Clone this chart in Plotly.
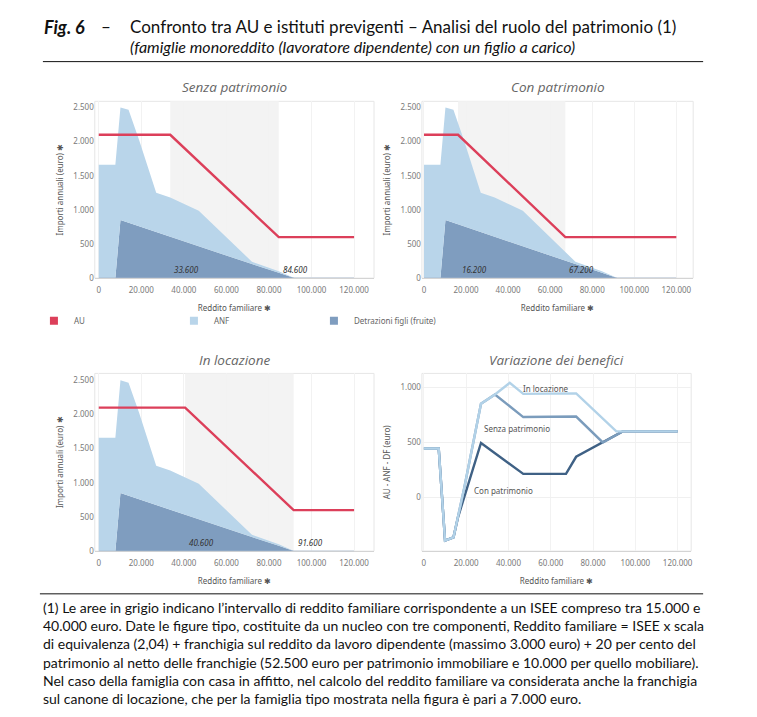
import plotly.graph_objects as go

W, H = 757, 717
OFF = 8                      # default page body margin
FW, FH = W - OFF, H - OFF

# ---------------- data ----------------
# Reddito familiare grid shared by ANF and DF (stacked areas)
x_inc = [0, 7800, 10200, 14000, 19000, 27000, 33600, 47000, 72000, 84600, 92000, 120000]
df_vals = [0, 0, 850, 810, 760, 675, 605, 465, 205, 80, 0, 0]          # Detrazioni figli (fruite)
anf_vals = [1660, 1660, 1650, 1655, 1260, 575, 575, 520, 35, 20, 0, 0]  # ANF

# AU per scenario
au_x_senza = [0, 33600, 84600, 120000]
au_x_con = [0, 16200, 67200, 120000]
au_x_loc = [0, 40600, 91600, 120000]
au_vals = [2100, 2100, 600, 600]

# grey ISEE bands (reddito familiare for ISEE 15.000 - 40.000)
band_senza = [33600, 84600]
band_con = [16200, 67200]
band_loc = [40600, 91600]

# Variazione dei benefici (AU - ANF - DF)
var_x_senza = [0, 7000, 10000, 14000, 19000, 27000, 33600, 47000, 72000, 84600, 94000, 120000]
var_senza = [445, 445, -390, -360, 80, 850, 935, 730, 735, 500, 600, 600]
var_x_con = [0, 7000, 10000, 14000, 16200, 27000, 47000, 67200, 72000, 84600, 94000, 120000]
var_con = [445, 445, -390, -360, -175, 495, 215, 215, 370, 500, 600, 600]
var_x_loc = [0, 7000, 10000, 14000, 19000, 27000, 33600, 40600, 47000, 72000, 91000, 120000]
var_loc = [445, 445, -390, -360, 80, 850, 935, 1040, 940, 945, 600, 600]

x_ticks = [0, 20000, 40000, 60000, 80000, 100000, 120000]
y_ticks_imp = [0, 500, 1000, 1500, 2000, 2500]
y_ticks_var = [0, 500, 1000]

panel_titles = ["Senza patrimonio", "Con patrimonio", "In locazione", "Variazione dei benefici"]

# ---------------- style ----------------
C_AU = "#dc3f5a"
C_ANF = "#b9d5ea"
C_DF = "#7f9dbf"
C_LOC = "#b2d2e8"
C_SENZA = "#7b9cbc"
C_CON = "#3f6185"
BAND = "#f3f3f3"
TICKF = dict(family="Noto Sans", size=8, color="#7a7a7a")
FONT = "Noto Sans"


def px_x(p):
    return (p - OFF) / FW


def px_y(p):
    return 1 - (p - OFF) / FH


fig = go.Figure()

panels = [
    ("", (95, 375), (102, 280), [-1875, 129375], [0, 2590]),
    ("2", (423, 695), (102, 280), [-1000, 128000], [0, 2590]),
    ("3", (95, 375), (376, 555), [-1875, 129375], [0, 2600]),
    ("4", (423, 693), (376, 555), [-950, 126400], [-486, 1126]),
]

au_sets = [au_x_senza, au_x_con, au_x_loc]
bands = [band_senza, band_con, band_loc]

shapes = []
annotations = []

for i, (suf, xd, yd, xr, yr) in enumerate(panels):
    xa = "xaxis" + suf
    ya = "yaxis" + suf
    xref = "x" + suf
    yref = "y" + suf
    is_var = i == 3
    fig.update_layout({
        xa: dict(domain=[px_x(xd[0]), px_x(xd[1])], range=xr, anchor=yref,
                 tickvals=x_ticks, tickformat=",d", ticks="", tickfont=TICKF, ticklabelstandoff=4,
                 showgrid=True, gridcolor="#f2f2f2", zeroline=False,
                 showline=True, linecolor="#d4d4d4", mirror=False,
                 title=dict(text="Reddito familiare ✱", font=dict(family=FONT, size=8, color="#555"),
                            standoff=11),
                 fixedrange=True),
        ya: dict(domain=[px_y(yd[1]), px_y(yd[0])], range=yr, anchor=xref,
                 tickvals=y_ticks_var if is_var else y_ticks_imp, tickformat=",d", ticks="",
                 tickfont=TICKF, showgrid=is_var, gridcolor="#f0f0f0", zeroline=False,
                 showline=False,
                 title=dict(text=("AU - ANF - DF (euro)" if is_var else "Importi annuali (euro) ✱"),
                            font=dict(family=FONT, size=8, color="#555"), standoff=8),
                 fixedrange=True),
    })
    shapes.append(dict(type="rect", xref="paper", yref="paper",
                       x0=px_x(xd[0]), x1=px_x(xd[1]), y0=px_y(yd[1]), y1=px_y(yd[0]),
                       line=dict(color="#e6e6e6", width=1), layer="below"))
    annotations.append(dict(text="<i>%s</i>" % panel_titles[i], xref="paper", yref="paper",
                            x=px_x((xd[0] + xd[1]) / 2), y=px_y(yd[0] - 14), xanchor="center",
                            yanchor="middle", showarrow=False,
                            font=dict(family="Open Sans", size=13.5, color="#666")))

    if not is_var:
        b0, b1 = bands[i]
        shapes.append(dict(type="rect", xref=xref, yref=yref + " domain", x0=b0, x1=b1, y0=0, y1=1,
                           fillcolor=BAND, line=dict(width=0), layer="below"))
        sg = "s%d" % i
        fig.add_trace(go.Scatter(x=x_inc, y=df_vals, xaxis=xref, yaxis=yref, stackgroup=sg,
                                 mode="lines", line=dict(width=0, color=C_DF), fillcolor=C_DF,
                                 name="Detrazioni figli (fruite)", showlegend=False, hoverinfo="skip"))
        fig.add_trace(go.Scatter(x=x_inc, y=anf_vals, xaxis=xref, yaxis=yref, stackgroup=sg,
                                 mode="lines", line=dict(width=0, color=C_ANF), fillcolor=C_ANF,
                                 name="ANF", showlegend=False, hoverinfo="skip"))
        fig.add_trace(go.Scatter(x=au_sets[i], y=au_vals, xaxis=xref, yaxis=yref, mode="lines",
                                 line=dict(color=C_AU, width=2.4), name="AU", showlegend=False))
        shapes.append(dict(type="line", xref=xref, yref=yref, x0=0, x1=120000, y0=0, y1=0,
                           line=dict(color="#a9b9cc", width=1)))
        for v in (b0, b1):
            annotations.append(dict(text="<i>%s</i>" % f"{v:,}".replace(",", "."), xref=xref, yref=yref,
                                    x=v, y=0, xanchor="left", yanchor="bottom", xshift=2, yshift=1,
                                    showarrow=False,
                                    font=dict(family=FONT, size=8, color="#333")))
    else:
        for xs, ys, col, nm in ((var_x_con, var_con, C_CON, "Con patrimonio"),
                                (var_x_senza, var_senza, C_SENZA, "Senza patrimonio"),
                                (var_x_loc, var_loc, C_LOC, "In locazione")):
            fig.add_trace(go.Scatter(x=xs, y=ys, xaxis=xref, yaxis=yref, mode="lines",
                                     line=dict(color=col, width=2.4), name=nm, showlegend=False))
        for nm, xx, yy in (("In locazione", 522, 391), ("Senza patrimonio", 483, 431),
                           ("Con patrimonio", 473, 494)):
            annotations.append(dict(text=nm, xref="paper", yref="paper", x=px_x(xx), y=px_y(yy),
                                    xanchor="left", yanchor="middle", showarrow=False,
                                    font=dict(family=FONT, size=8, color="#555")))

# legend entries
for nm, col in (("AU", C_AU), ("ANF", C_ANF), ("Detrazioni figli (fruite)", C_DF)):
    fig.add_trace(go.Scatter(x=[None], y=[None], mode="markers", name=nm,
                             marker=dict(symbol="square", size=8, color=col), showlegend=True))

# header
HF = "Lato"
annotations.append(dict(text="<b><i>Fig. 6</i></b>", xref="paper", yref="paper", x=px_x(42), y=px_y(27),
                        xanchor="left", yanchor="middle", showarrow=False,
                        font=dict(family=HF, size=18, color="#111")))
annotations.append(dict(text="–", xref="paper", yref="paper", x=px_x(99), y=px_y(27),
                        xanchor="left", yanchor="middle", showarrow=False,
                        font=dict(family=HF, size=17, color="#111")))
annotations.append(dict(text="Confronto tra AU e istituti previgenti – Analisi del ruolo del patrimonio (1)",
                        xref="paper", yref="paper", x=px_x(128), y=px_y(27), xanchor="left",
                        yanchor="middle", showarrow=False, font=dict(family=HF, size=17, color="#111")))
annotations.append(dict(text="<i>(famiglie monoreddito (lavoratore dipendente) con un figlio a carico)</i>",
                        xref="paper", yref="paper", x=px_x(128), y=px_y(47), xanchor="left",
                        yanchor="middle", showarrow=False, font=dict(family=HF, size=16, color="#111")))
shapes.append(dict(type="line", xref="paper", yref="paper", x0=px_x(43), x1=px_x(705),
                   y0=px_y(62), y1=px_y(62), line=dict(color="#111", width=1)))

# footnote
foot = ("(1) Le aree in grigio indicano l’intervallo di reddito familiare corrispondente a un ISEE compreso tra 15.000 e<br>"
        "40.000 euro. Date le figure tipo, costituite da un nucleo con tre componenti, Reddito familiare = ISEE x scala<br>"
        "di equivalenza (2,04) + franchigia sul reddito da lavoro dipendente (massimo 3.000 euro) + 20 per cento del<br>"
        "patrimonio al netto delle franchigie (52.500 euro per patrimonio immobiliare e 10.000 per quello mobiliare).<br>"
        "Nel caso della famiglia con casa in affitto, nel calcolo del reddito familiare va considerata anche la franchigia<br>"
        "sul canone di locazione, che per la famiglia tipo mostrata nella figura è pari a 7.000 euro.")
shapes.append(dict(type="line", xref="paper", yref="paper", x0=px_x(40), x1=px_x(705),
                   y0=px_y(598), y1=px_y(598), line=dict(color="#111", width=1)))
annotations.append(dict(text=foot, xref="paper", yref="paper", x=px_x(41), y=px_y(601), xanchor="left",
                        yanchor="top", align="left", showarrow=False,
                        font=dict(family=HF, size=14, color="#111")))

fig.update_layout(
    width=FW, height=FH, margin=dict(l=0, r=0, t=0, b=0),
    paper_bgcolor="white", plot_bgcolor="white",
    separators=",.",
    shapes=shapes, annotations=annotations,
    legend=dict(orientation="h", x=px_x(34), y=px_y(323), xanchor="left", yanchor="middle",
                traceorder="normal",
                entrywidth=95, entrywidthmode="pixels", font=dict(family=FONT, size=8, color="#666"),
                itemclick=False, bgcolor="rgba(0,0,0,0)"),
)

fig.write_html("out.html")
